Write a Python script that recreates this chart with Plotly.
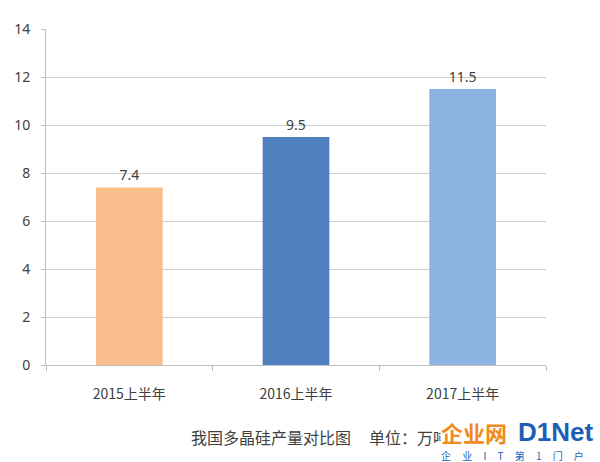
import plotly.graph_objects as go

categories = ["2015上半年", "2016上半年", "2017上半年"]
values = [7.4, 9.5, 11.5]
value_labels = ["7.4", "9.5", "11.5"]
bar_colors = ["#F9BE8C", "#4F7FBE", "#8DB3E2"]
y_ticks = [0, 2, 4, 6, 8, 10, 12, 14]

fig = go.Figure()
fig.add_trace(go.Bar(
    x=categories, y=values, width=0.4,
    marker=dict(color=bar_colors, line=dict(width=0)),
    text=value_labels, textposition="outside",
    textfont=dict(family="Noto Sans, sans-serif", size=14, color="#404040"),
    cliponaxis=False,
))

fig.update_layout(
    width=600, height=462,
    margin=dict(l=46, r=54, t=29, b=97),
    paper_bgcolor="white", plot_bgcolor="white",
    showlegend=False,
    font=dict(family="Noto Sans, Noto Sans CJK SC, sans-serif", color="#404040"),
)
fig.update_yaxes(
    range=[0, 14], tickvals=y_ticks, showgrid=True, gridcolor="#D0D0D0", gridwidth=1,
    showline=True, linecolor="#BFBFBF", linewidth=1,
    ticks="outside", ticklen=4, tickcolor="#BFBFBF",
    tickfont=dict(size=14, color="#404040"), zeroline=False,
    automargin=False, ticklabelstandoff=8,
)
fig.update_xaxes(
    showline=True, linecolor="#BFBFBF", linewidth=1,
    ticks="outside", ticklen=5, tickcolor="#BFBFBF", tickson="boundaries",
    tickfont=dict(family="Noto Sans CJK SC, sans-serif", size=14, color="#404040"),
    showgrid=False, automargin=False, ticklabelstandoff=16,
)

def py(pix):
    return -(pix - 365) / 336

def px(pix):
    return (pix - 46) / 500

fig.add_annotation(
    text="我国多晶硅产量对比图" + "\u00a0" * 5 + "单位：万吨", xref="paper", yref="paper",
    x=px(189), y=py(437), xanchor="left", yanchor="middle", showarrow=False,
    font=dict(family="Noto Sans CJK SC, sans-serif", size=16, color="#404040"),
)
fig.add_annotation(
    text="<b>企业网</b>", xref="paper", yref="paper",
    x=px(440), y=py(432), xanchor="left", yanchor="middle", showarrow=False,
    bgcolor="white", borderpad=0,
    font=dict(family="Noto Sans CJK SC, sans-serif", size=22, color="#F08A1C"),
)
fig.add_annotation(
    text="<b>D1Net</b>", xref="paper", yref="paper",
    x=px(516), y=py(432), xanchor="left", yanchor="middle", showarrow=False,
    font=dict(family="Liberation Sans, sans-serif", size=26, color="#1E5FB4"),
)
gap = "\u00a0" * 5
fig.add_annotation(
    text=gap.join(list("企业IT第1门户")), xref="paper", yref="paper",
    x=px(440), y=py(455), xanchor="left", yanchor="middle", showarrow=False,
    borderpad=0,
    font=dict(family="Noto Sans CJK SC, sans-serif", size=10, color="#1E5FB4"),
)

fig.write_html("out.html", config={"displayModeBar": False},
               post_script="document.body.style.margin='0';")
